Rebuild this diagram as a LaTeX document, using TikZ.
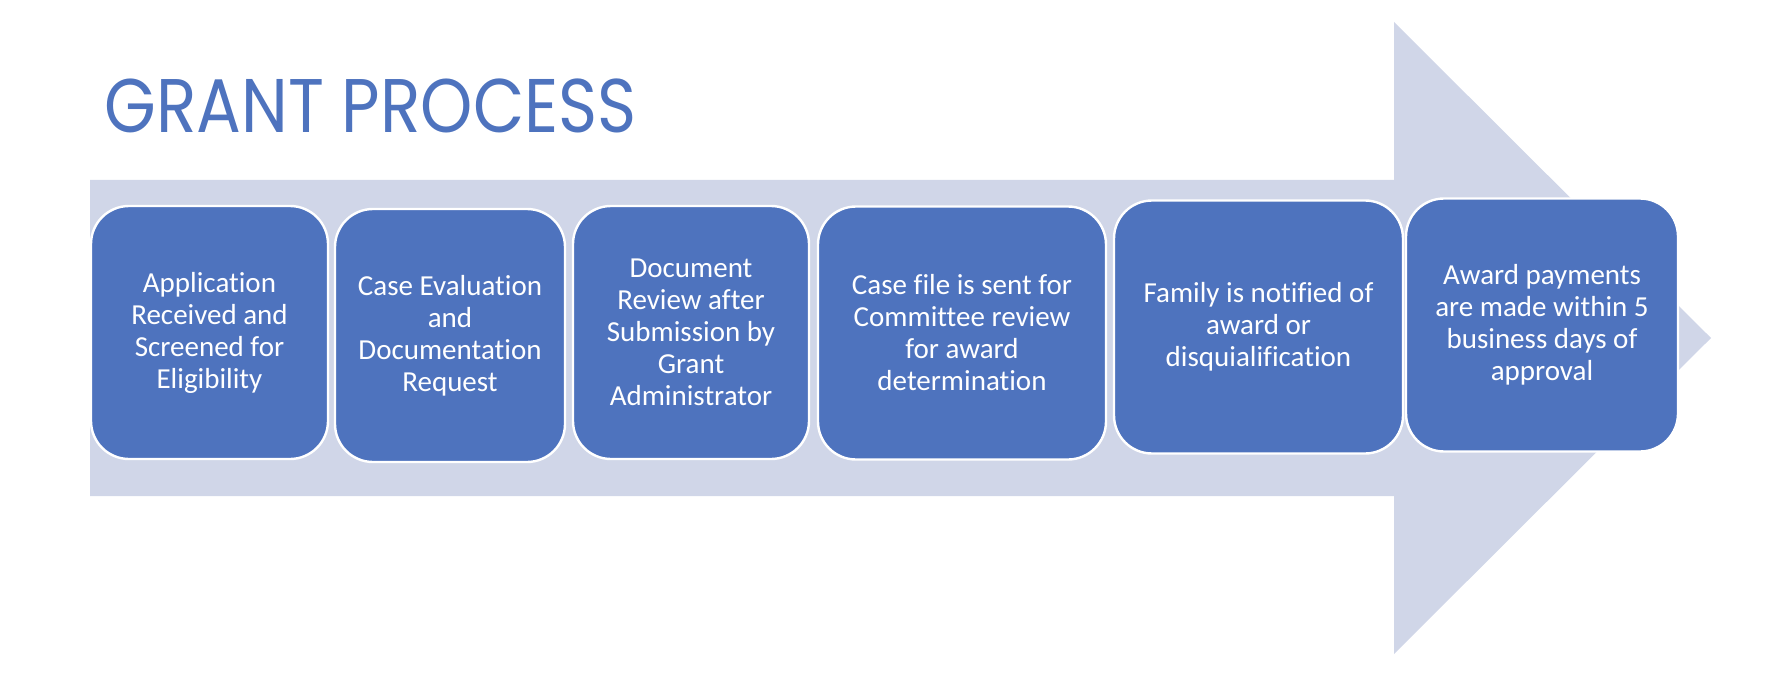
\documentclass[tikz,border=0pt]{standalone}
\usepackage{fontspec}
\setmainfont{Carlito}[Ligatures=NoCommon]
\newfontfamily\titlefont{Poppins}
\usetikzlibrary{positioning}
\definecolor{boxblue}{HTML}{4E73BE}
\definecolor{bandgray}{HTML}{D0D6E8}
\tikzset{
    band/.style = {
        fill = bandgray,
        draw = none,
        },
    stage/.style = {
        fill = boxblue,
        draw = white,
        line width = 1.2pt,
        rounded corners = 19pt,
        text = white,
        align = center,
        inner sep = 0pt,
        outer sep = 0pt,
        minimum height = 126.5pt,
        font = \fontsize{14.5}{16}\selectfont,
        },
    title text/.style = {
        text = boxblue,
        inner sep = 0pt,
        font = \titlefont\fontsize{38}{40}\selectfont,
        xscale = 0.875,
        transform shape,
        },
}

\begin{document}
\begin{tikzpicture}[x=0.5pt, y=-0.5pt]
            \useasboundingbox (0,0) rectangle (1768,690);
            \fill[band] (90,180) -- (1394,180) -- (1394,22) -- (1711,338)
                -- (1394,654) -- (1394,496) -- (90,496) -- cycle;

            \node[title text, anchor=base west] (T) at (104,133) {GRANT PROCESS};

            \node[stage, minimum width=118.5pt] (A) at (209.5,332.5) {Application\\Received and\\Screened for\\Eligibility};
            \node[stage, minimum width=115pt, right=3.5pt of A, yshift=-1.5pt] (B) {Case Evaluation\\and\\Documentation\\Request};
            \node[stage, minimum width=118pt, right=4pt of B, yshift=1.5pt] (C) {Document\\Review after\\Submission by\\Grant\\Administrator};
            \node[stage, minimum width=144pt, right=4.5pt of C, yshift=-0.25pt] (D) {Case file is sent for\\Committee review\\for award\\determination};
            \node[stage, minimum width=144.5pt, right=4pt of D, yshift=3pt] (E) {Family is notified of\\award or\\disquialification};
            \node[stage, minimum width=136pt, right=1.5pt of E, yshift=1pt] (F) {Award payments\\are made within 5\\business days of\\approval};
        \end{tikzpicture}
\end{document}
